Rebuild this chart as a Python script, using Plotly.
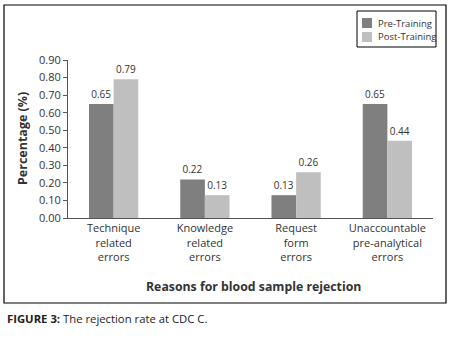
import plotly.graph_objects as go

categories = ["Technique<br>related<br>errors", "Knowledge<br>related<br>errors",
              "Request<br>form<br>errors", "Unaccountable<br>pre-analytical<br>errors"]
pre_training = [0.65, 0.22, 0.13, 0.65]
post_training = [0.79, 0.13, 0.26, 0.44]
y_ticks = [0.0, 0.1, 0.2, 0.3, 0.4, 0.5, 0.6, 0.7, 0.8, 0.9]
series_names = ["Pre-Training", "Post-Training"]
series_colors = ["#7f7f7f", "#bfbfbf"]

W, H = 450, 339
L, R, T, B = 68, 17, 60, 121
pw, ph = W - L - R, H - T - B

def px(x):
    return (x - L) / pw

def py(y):
    return (H - B - y) / ph

font = "Open Sans, Liberation Sans, sans-serif"
txtcol = "#333333"

fig = go.Figure()
for name, vals, col in zip(series_names, [pre_training, post_training], series_colors):
    fig.add_trace(go.Bar(name=name, x=categories, y=vals,
                         marker=dict(color=col, line=dict(width=0)),
                         text=[f"{v:.2f}" for v in vals], textposition="outside",
                         textfont=dict(size=10, color=txtcol), cliponaxis=False))

shapes = [dict(type="rect", xref="paper", yref="paper",
               x0=px(4), x1=px(446), y0=py(303), y1=py(5),
               line=dict(color="black", width=1.2), fillcolor="rgba(0,0,0,0)"),
          dict(type="rect", xref="paper", yref="paper",
               x0=px(357), x1=px(436), y0=py(47), y1=py(11),
               line=dict(color="black", width=1), fillcolor="white")]
annotations = [
    dict(text="<b>Percentage (%)</b>", xref="paper", yref="paper",
         x=px(22), y=py(139), textangle=-90, showarrow=False,
         font=dict(size=12.5, color=txtcol), xanchor="center", yanchor="middle"),
    dict(text="<b>Reasons for blood sample rejection</b>", xref="paper", yref="paper",
         x=px(253), y=py(286), showarrow=False,
         font=dict(size=12.3, color=txtcol), xanchor="center", yanchor="middle"),
    dict(text="<b>FIGURE 3:</b> The rejection rate at CDC C.", xref="paper", yref="paper",
         x=px(5), y=py(318), showarrow=False,
         font=dict(size=11.3, color="#222222"), xanchor="left", yanchor="middle"),
]
for i, (name, col) in enumerate(zip(series_names, series_colors)):
    yc = 23 + 14 * i
    shapes.append(dict(type="rect", xref="paper", yref="paper",
                       x0=px(362), x1=px(372), y0=py(yc + 5), y1=py(yc - 5),
                       line=dict(width=0), fillcolor=col))
    annotations.append(dict(text=name, xref="paper", yref="paper",
                            x=px(376), y=py(yc), showarrow=False,
                            xanchor="left", yanchor="middle",
                            font=dict(size=9.5, color=txtcol)))

fig.update_layout(
    width=W, height=H, margin=dict(l=L, r=R, t=T, b=B, autoexpand=False),
    paper_bgcolor="white", plot_bgcolor="white",
    barmode="group", bargap=0.46, bargroupgap=0,
    font=dict(family=font, size=11, color=txtcol),
    showlegend=False,
    xaxis=dict(showline=True, linecolor="#555555", linewidth=1, ticks="",
               tickfont=dict(size=11, color=txtcol), showgrid=False, automargin=False),
    yaxis=dict(range=[0, 0.9], tickvals=y_ticks, tickformat=".2f",
               showline=True, linecolor="#555555", linewidth=1,
               ticks="outside", ticklen=4, tickcolor="#555555",
               showgrid=False, zeroline=False, automargin=False,
               tickfont=dict(size=11, color=txtcol)),
    shapes=shapes,
    annotations=annotations,
)

fig.write_html("out.html", config={"displayModeBar": False},
               post_script="document.body.style.margin='0';document.body.style.overflow='hidden';")
